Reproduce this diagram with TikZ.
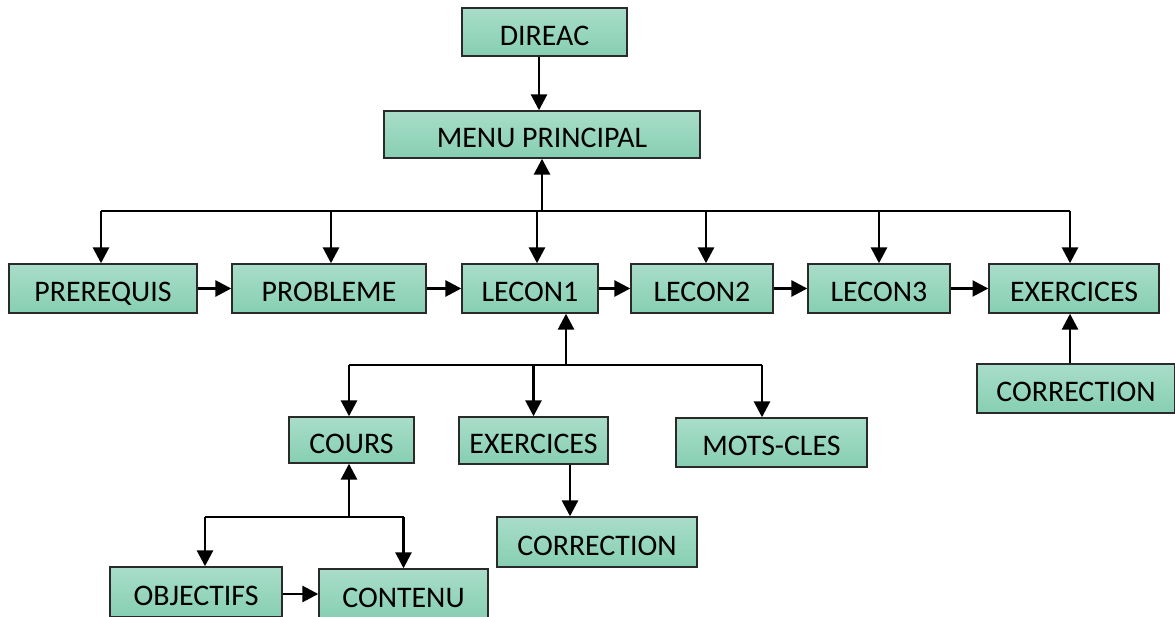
\documentclass[tikz,border=0pt]{standalone}
\usepackage{fontspec}
\setmainfont{Carlito}
\usetikzlibrary{arrows.meta,calc}
\definecolor{boxtop}{HTML}{A9DDC9}
\definecolor{boxbot}{HTML}{86CFB3}
\definecolor{boxline}{HTML}{2A2A2A}
\begin{document}
\begin{tikzpicture}[x=0.02cm,y=-0.02cm,
  box/.style={draw=boxline,line width=0.8pt,top color=boxtop,bottom color=boxbot,
    inner sep=0pt,font=\fontsize{17}{20}\selectfont,text=black,
    text height=15pt,text depth=0pt},
  arr/.style={line width=1.6pt,-{Triangle[length=9pt,width=9pt]}},
  ln/.style={line width=1.6pt}]
\useasboundingbox (0,0) rectangle (1175,617);

% boxes
\node[box,minimum width=165*0.02cm,minimum height=48*0.02cm] (direac) at (544.5,32) {DIREAC};
\node[box,minimum width=316*0.02cm,minimum height=47*0.02cm] (menu) at (542,134.5) {MENU PRINCIPAL};

\node[box,minimum width=188*0.02cm,minimum height=49*0.02cm] (prereq) at (103,288.5) {PREREQUIS};
\node[box,minimum width=194*0.02cm,minimum height=49*0.02cm] (probleme) at (329,288.5) {PROBLEME};
\node[box,minimum width=136*0.02cm,minimum height=49*0.02cm] (lecon1) at (530,288.5) {LECON1};
\node[box,minimum width=142*0.02cm,minimum height=49*0.02cm] (lecon2) at (702,288.5) {LECON2};
\node[box,minimum width=142*0.02cm,minimum height=49*0.02cm] (lecon3) at (879,288.5) {LECON3};
\node[box,minimum width=170*0.02cm,minimum height=49*0.02cm] (exo) at (1074,288.5) {EXERCICES};
\node[box,minimum width=198*0.02cm,minimum height=49*0.02cm] (corr1) at (1076,388.5) {CORRECTION};

\node[box,minimum width=125*0.02cm,minimum height=46*0.02cm] (cours) at (351.5,440) {COURS};
\node[box,minimum width=149*0.02cm,minimum height=47*0.02cm] (exo2) at (533.5,440.5) {EXERCICES};
\node[box,minimum width=191*0.02cm,minimum height=49*0.02cm] (mots) at (771.5,442.5) {MOTS-CLES};
\node[box,minimum width=200*0.02cm,minimum height=50*0.02cm] (corr2) at (597,542) {CORRECTION};

\node[box,minimum width=172*0.02cm,minimum height=50*0.02cm] (obj) at (196,592) {OBJECTIFS};
\node[box,minimum width=169*0.02cm,minimum height=50*0.02cm] (contenu) at (403.5,594) {CONTENU};

% junction points
\coordinate (bus) at (542,211);
\coordinate (sb) at (566,365);
\coordinate (cb) at (349,517);
\coordinate (e2c) at (570,490);

% top
\draw[arr] (direac.south -| 539,0) -- (menu.north -| 539,0);
\draw[arr] (bus) -- (menu.south);

% main bus
\draw[ln] ($(prereq.north|-bus)+(-2,0)$) -- ($(exo.north|-bus)+(-4,0)$);
\draw[arr] ($(prereq.north|-bus)+(-2,0)$) -- ($(prereq.north)+(-2,0)$);
\draw[arr] ($(probleme.north|-bus)+(2,0)$) -- ($(probleme.north)+(2,0)$);
\draw[arr] ($(lecon1.north|-bus)+(7,0)$) -- ($(lecon1.north)+(7,0)$);
\draw[arr] ($(lecon2.north|-bus)+(4,0)$) -- ($(lecon2.north)+(4,0)$);
\draw[arr] (lecon3.north|-bus) -- (lecon3.north);
\draw[arr] ($(exo.north|-bus)+(-4,0)$) -- ($(exo.north)+(-4,0)$);

% sequence
\draw[arr] (prereq.east) -- (probleme.west);
\draw[arr] (probleme.east) -- (lecon1.west);
\draw[arr] (lecon1.east) -- (lecon2.west);
\draw[arr] (lecon2.east) -- (lecon3.west);
\draw[arr] (lecon3.east) -- (exo.west);
\draw[arr] ($(corr1.north)+(-6,0)$) -- ($(exo.south)+(-4,0)$);

% lecon1 branch
\draw[arr] (sb) -- (sb|-lecon1.south);
\draw[ln] ($(cours.north|-sb)+(-2.5,0)$) -- ($(mots.north|-sb)+(-9.5,0)$);
\draw[arr] ($(cours.north|-sb)+(-2.5,0)$) -- ($(cours.north)+(-2.5,0)$);
\draw[arr] (exo2.north|-sb) -- (exo2.north);
\draw[arr] ($(mots.north|-sb)+(-9.5,0)$) -- ($(mots.north)+(-9.5,0)$);
\draw[arr] (exo2.south-|e2c) -- (corr2.north-|e2c);

% cours branch
\draw[arr] (cb) -- (cb|-cours.south);
\draw[ln] ($(obj.north|-cb)+(9,0)$) -- (contenu.north|-cb);
\draw[arr] ($(obj.north|-cb)+(9,0)$) -- ($(obj.north)+(9,0)$);
\draw[arr] (contenu.north|-cb) -- (contenu.north);
\draw[arr] (obj.east|-contenu) -- (contenu.west);
\end{tikzpicture}
\end{document}
